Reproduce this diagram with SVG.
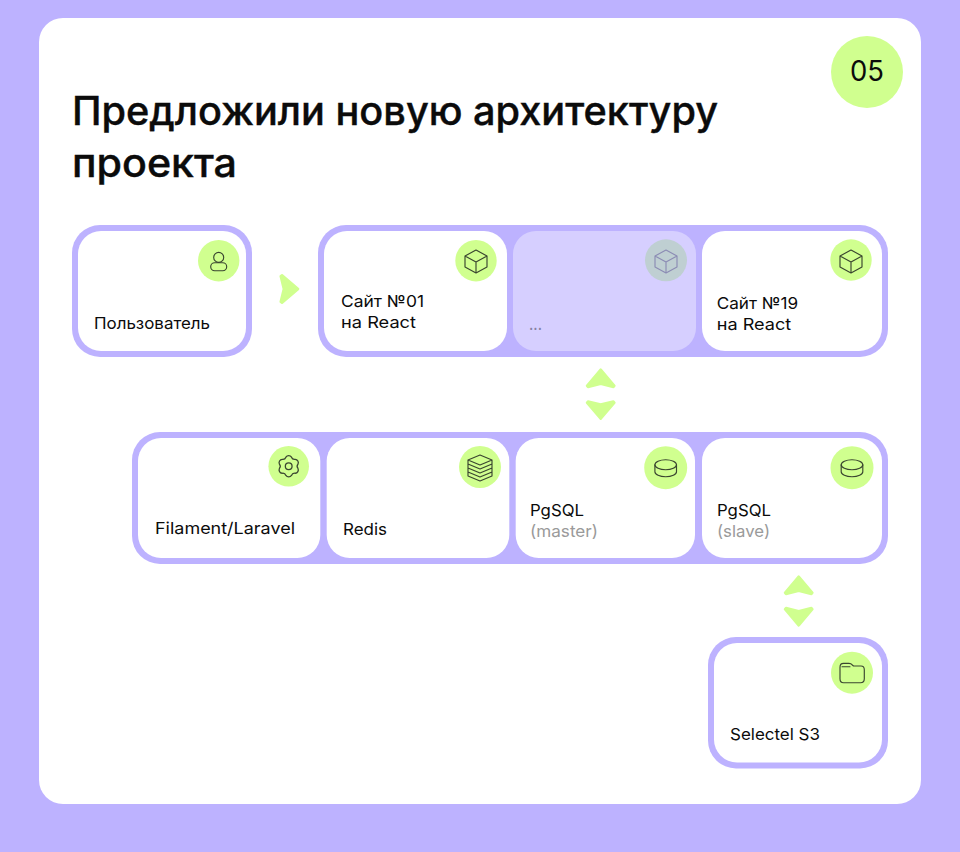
<svg xmlns="http://www.w3.org/2000/svg" width="960" height="852" viewBox="0 0 960 852">
<style>
text{font-family:"Inter","Noto Sans","Liberation Sans",sans-serif;fill:#0b0b0b}
.t{font-size:16.5px;font-weight:400}
.g{fill:#9a9a9a}
.h{font-size:39px;font-weight:500;stroke:#0b0b0b;stroke-width:.4}
.frame{fill:#BDB2FF}
.card{fill:#fff}
.dot{fill:#D0FF8F}
.ic{fill:none;stroke:#3a4630;stroke-width:1.15;stroke-linejoin:round;stroke-linecap:round}
.chev{fill:#D0FF8F;stroke:#D0FF8F;stroke-width:2.500;stroke-linejoin:round}
</style>
<defs>
<path id="chev" d="M0 1.900L13.700 18L12.700 19.300L0 16.200L-12.700 19.300L-13.700 18Z"/>
<g id="cube"><path d="M0-11L11-5V6L0 12L-11 6V-5ZM-11-5L0 1L11-5M0 1V12"/></g>
<g id="db"><ellipse cx="0" cy="-3" rx="10.800" ry="5"/><path d="M-10.800-3V4A10.800 5 0 0 0 10.800 4V-3"/></g>
</defs>
<rect width="960" height="852" fill="#BDB2FF"/>
<rect x="39" y="18" width="882" height="786" rx="24" fill="#fff"/>
<g id="title">
<text class="h" x="72" y="125" textLength="646" lengthAdjust="spacingAndGlyphs">Предложили новую архитектуру</text>
<text class="h" x="72" y="177" textLength="165" lengthAdjust="spacingAndGlyphs">проекта</text>
</g>
<g id="badge">
<circle class="dot" cx="867" cy="72" r="36"/>
<text x="850" y="81" font-size="28" textLength="34" lengthAdjust="spacingAndGlyphs">05</text>
</g>
<g id="connectors">
<use href="#chev" class="chev" transform="translate(300 289) rotate(90)"/>
<use href="#chev" class="chev" transform="translate(600.700 367.700)"/>
<use href="#chev" class="chev" transform="translate(600.700 420.700) scale(1 -1)"/>
<use href="#chev" class="chev" transform="translate(798.700 574.700)"/>
<use href="#chev" class="chev" transform="translate(798.700 627.300) scale(1 -1)"/>
</g>
<g id="node-user">
<rect class="frame" x="72" y="225" width="180" height="132" rx="28"/>
<rect class="card" x="78" y="231" width="168" height="120" rx="23"/>
<circle class="dot" cx="218.700" cy="260.700" r="20.700"/>
<g class="ic" transform="translate(218.700 260.700)"><circle cx="0" cy="-3.300" r="5"/><rect x="-8" y="2" width="16" height="8" rx="4"/></g>
<text class="t" x="94" y="329" textLength="116" lengthAdjust="spacingAndGlyphs">Пользователь</text>
</g>
<g id="group-sites">
<rect class="frame" x="318" y="225" width="570" height="132" rx="28"/>
<g id="node-site01">
<rect class="card" x="324" y="231" width="183" height="120" rx="23"/>
<circle class="dot" cx="476" cy="260.700" r="20.700"/>
<use href="#cube" class="ic" transform="translate(476 261)"/>
<text class="t" x="341" y="307" textLength="83" lengthAdjust="spacingAndGlyphs">Сайт №01</text>
<text class="t" x="341" y="328" textLength="75" lengthAdjust="spacingAndGlyphs">на React</text>
</g>
<g id="node-sites-more">
<rect x="513" y="231" width="183" height="120" rx="23" fill="#D6CFFF"/>
<circle cx="666" cy="260.300" r="21" fill="#BFCFD2"/>
<use href="#cube" class="ic" style="stroke:#8C8CB4" transform="translate(666 261)"/>
<text class="t" x="529" y="330" style="fill:#85809f" textLength="13" lengthAdjust="spacingAndGlyphs">...</text>
</g>
<g id="node-site19">
<rect class="card" x="702" y="231" width="180" height="120" rx="23"/>
<circle class="dot" cx="851" cy="260" r="20.700"/>
<use href="#cube" class="ic" transform="translate(851 261)"/>
<text class="t" x="716.700" y="309" textLength="81.500" lengthAdjust="spacingAndGlyphs">Сайт №19</text>
<text class="t" x="716.700" y="330" textLength="74.500" lengthAdjust="spacingAndGlyphs">на React</text>
</g>
</g>
<g id="group-backend">
<rect class="frame" x="132" y="432" width="756" height="132" rx="28"/>
<g id="node-filament">
<rect class="card" x="138" y="438" width="182.300" height="120" rx="23"/>
<circle class="dot" cx="288.700" cy="466.300" r="20.300"/>
<g class="ic" transform="translate(288.700 466.300) scale(1.120)"><path d="M-2.490-8.130A3 3 0 0 1 2.490-8.130A3 3 0 0 0 5.800-6.220A3 3 0 0 1 8.280-1.910A3 3 0 0 0 8.280 1.910A3 3 0 0 1 5.800 6.220A3 3 0 0 0 2.490 8.130A3 3 0 0 1-2.490 8.130A3 3 0 0 0-5.800 6.220A3 3 0 0 1-8.280 1.910A3 3 0 0 0-8.280-1.910A3 3 0 0 1-5.800-6.220A3 3 0 0 0-2.490-8.130Z"/><circle cx="0" cy="0" r="3"/></g>
<text class="t" x="155" y="534" textLength="140" lengthAdjust="spacingAndGlyphs">Filament/Laravel</text>
</g>
<g id="node-redis">
<rect class="card" x="326.700" y="438" width="182.600" height="120" rx="23"/>
<circle class="dot" cx="480" cy="467" r="21"/>
<g class="ic" transform="translate(480 467)"><path d="M0-12L12-7L0-2L-12-7ZM-12-7V9L0 14L12 9V-7M-12-3L0 2L12-3M-12 1L0 6L12 1M-12 5L0 10L12 5"/></g>
<text class="t" x="343" y="534.500" textLength="44" lengthAdjust="spacingAndGlyphs">Redis</text>
</g>
<g id="node-pg-master">
<rect class="card" x="515.700" y="438" width="179.300" height="120" rx="23"/>
<circle class="dot" cx="665.700" cy="467.700" r="21.500"/>
<use href="#db" class="ic" transform="translate(665.700 467.700)"/>
<text class="t" x="530" y="515.700" textLength="54" lengthAdjust="spacingAndGlyphs">PgSQL</text>
<text class="t g" x="530" y="536.700" textLength="68" lengthAdjust="spacingAndGlyphs">(master)</text>
</g>
<g id="node-pg-slave">
<rect class="card" x="702" y="438" width="180" height="120" rx="23"/>
<circle class="dot" cx="852" cy="467.700" r="21.500"/>
<use href="#db" class="ic" transform="translate(852 467.700)"/>
<text class="t" x="717" y="515.700" textLength="54" lengthAdjust="spacingAndGlyphs">PgSQL</text>
<text class="t g" x="717" y="536.700" textLength="53" lengthAdjust="spacingAndGlyphs">(slave)</text>
</g>
</g>
<g id="node-s3">
<rect class="frame" x="708" y="637" width="180" height="131.500" rx="28"/>
<rect class="card" x="714" y="643" width="168" height="119.500" rx="23"/>
<circle class="dot" cx="852" cy="672.700" r="21"/>
<g class="ic" transform="translate(852 672.700)"><path d="M-12-5.500Q-12-9.300-8.500-9.300H-3Q-1-9.300 0-8L1.500-6.700H9Q12.300-6.700 12.300-3V6Q12.300 10 8.500 10H-8.500Q-12 10-12 6ZM-10-6H-2"/></g>
<text class="t" x="730" y="740" textLength="90" lengthAdjust="spacingAndGlyphs">Selectel S3</text>
</g>
</svg>
